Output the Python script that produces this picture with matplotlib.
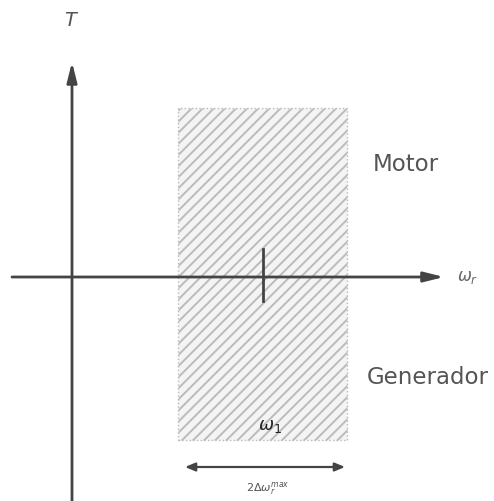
import matplotlib.pyplot as plt
from matplotlib.patches import Rectangle

# Esquema: zona de operação em torno de omega_1 (unidades arbitrárias, origem no cruzamento dos eixos)
eixo_x = [-0.60, 3.72]      # início e ponta da seta do eixo omega_r
eixo_t = [-2.26, 2.15]      # base e ponta da seta do eixo T
faixa = [1.06, 2.75]        # omega_1 - delta, omega_1 + delta
faixa_t = [-1.63, 1.69]     # altura da zona hachurada
omega_1 = 1.91
marca_t = [-0.24, 0.28]
seta_2delta_y = -1.90
rotulos_regiao = ["Motor", "Generador"]
rotulos_x = [3.34, 3.56]
rotulos_y = [1.12, -1.00]

cinza = "#444444"
plt.rcParams["hatch.linewidth"] = 1.4
plt.rcParams["hatch.color"] = "#6a6a6a"

fig = plt.figure(figsize=(4.94, 5.01), dpi=100)
ax = fig.add_axes([0, 0, 1, 1])
ax.set_xlim(-0.72, 4.22)
ax.set_ylim(-2.24, 2.77)
ax.axis("off")

# zona hachurada
ax.add_patch(Rectangle((faixa[0], faixa_t[0]), faixa[1] - faixa[0], faixa_t[1] - faixa_t[0],
                       facecolor="#f4f4f4", edgecolor="#bbbbbb", linestyle=":",
                       linewidth=1.0, hatch="///", zorder=1))

# eixos com setas
ax.annotate("", xy=(eixo_x[1], 0), xytext=(eixo_x[0], 0),
            arrowprops=dict(arrowstyle="-|>,head_length=1.2,head_width=0.3",
                            color=cinza, lw=2.0, shrinkA=0, shrinkB=0), zorder=3)
ax.annotate("", xy=(0, eixo_t[1]), xytext=(0, eixo_t[0]),
            arrowprops=dict(arrowstyle="-|>,head_length=1.2,head_width=0.3",
                            color=cinza, lw=2.0, shrinkA=0, shrinkB=0), zorder=3)

# marca em omega_1
ax.plot([omega_1, omega_1], marca_t, color=cinza, lw=2.0, zorder=3)
ax.text(omega_1 + 0.07, faixa_t[0] + 0.05, r"$\omega_1$", fontsize=13, color="#222222",
        ha="center", va="bottom", zorder=4)

# seta dupla 2*delta omega
ax.annotate("", xy=(faixa[1] - 0.02, seta_2delta_y), xytext=(faixa[0] + 0.07, seta_2delta_y),
            arrowprops=dict(arrowstyle="<|-|>,head_length=0.6,head_width=0.25",
                            color=cinza, lw=1.6, shrinkA=0, shrinkB=0))
ax.text(omega_1 + 0.05, seta_2delta_y - 0.13, r"$2\Delta\omega_r^{max}$", fontsize=8,
        color="#555555", ha="center", va="top")

# rótulos dos eixos
ax.text(0.0, 2.56, r"$T$", fontsize=14, color="#555555", ha="center", va="center")
ax.text(3.96, 0.0, r"$\omega_r$", fontsize=12, color="#666666", ha="center", va="center")

# regiões
for rotulo, x, y in zip(rotulos_regiao, rotulos_x, rotulos_y):
    ax.text(x, y, rotulo, fontsize=16.5, color="#555555", ha="center", va="center")

fig.savefig("out.png", dpi=100)
